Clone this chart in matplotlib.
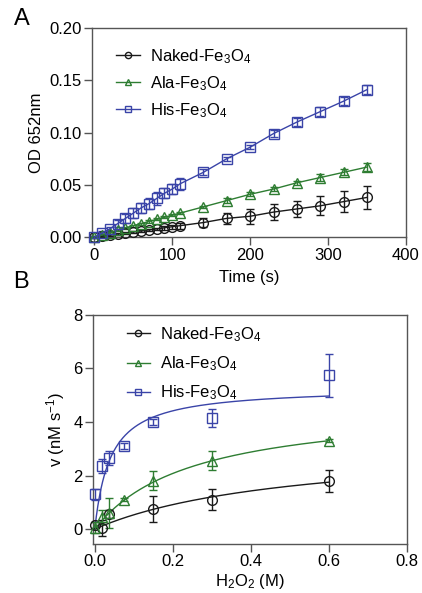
import numpy as np
import matplotlib
matplotlib.use("Agg")
import matplotlib.pyplot as plt

plt.rcParams['font.family'] = ['Liberation Sans', 'DejaVu Sans']
plt.rcParams['font.size'] = 11
plt.rcParams['mathtext.fontset'] = 'custom'
plt.rcParams['mathtext.rm'] = 'Liberation Sans'
plt.rcParams['mathtext.it'] = 'Liberation Sans'

# ---- Panel A: kinetics (OD 652nm vs time) ----
time_s = [0, 10, 20, 30, 40, 50, 60, 70, 80, 90, 100, 110,
          140, 170, 200, 230, 260, 290, 320, 350]
naked_od = [0.000, 0.001, 0.002, 0.003, 0.004, 0.005, 0.006, 0.007, 0.008, 0.009,
            0.010, 0.011, 0.014, 0.018, 0.020, 0.024, 0.027, 0.030, 0.034, 0.038]
naked_od_err = [0.001, 0.001, 0.001, 0.001, 0.001, 0.001, 0.001, 0.001, 0.001, 0.002,
                0.002, 0.003, 0.004, 0.005, 0.007, 0.008, 0.008, 0.009, 0.010, 0.011]
ala_od = [0.000, 0.002, 0.004, 0.007, 0.009, 0.011, 0.013, 0.015, 0.017, 0.019,
          0.021, 0.023, 0.029, 0.035, 0.041, 0.046, 0.052, 0.057, 0.062, 0.067]
ala_od_err = [0.001, 0.001, 0.001, 0.001, 0.001, 0.001, 0.001, 0.001, 0.001, 0.001,
              0.001, 0.001, 0.001, 0.002, 0.002, 0.002, 0.002, 0.003, 0.003, 0.004]
his_od = [0.000, 0.004, 0.008, 0.013, 0.018, 0.023, 0.028, 0.032, 0.037, 0.042,
          0.046, 0.051, 0.062, 0.075, 0.086, 0.099, 0.110, 0.120, 0.130, 0.141]
his_od_err = [0.001, 0.002, 0.002, 0.003, 0.004, 0.005, 0.005, 0.005, 0.006, 0.005,
              0.005, 0.006, 0.003, 0.002, 0.002, 0.003, 0.004, 0.004, 0.004, 0.004]

# ---- Panel B: Michaelis-Menten (v vs H2O2) ----
h2o2_m = [0.0, 0.01875, 0.0375, 0.075, 0.15, 0.3, 0.6]
naked_h2o2 = [0.0, 0.01875, 0.0375, 0.15, 0.3, 0.6]
naked_v = [0.15, 0.05, 0.55, 0.75, 1.1, 1.8]
naked_v_err = [0.1, 0.3, 0.15, 0.5, 0.4, 0.4]
ala_v = [0.05, 0.45, 0.6, 1.1, 1.8, 2.55, 3.3]
ala_v_err = [0.2, 0.25, 0.55, 0.05, 0.35, 0.35, 0.05]
his_v = [1.3, 2.35, 2.65, 3.1, 4.0, 4.15, 5.75]
his_v_err = [0.2, 0.25, 0.25, 0.1, 0.1, 0.35, 0.8]

# fitted Michaelis-Menten parameters (Vmax in nM/s, Km in M)
naked_fit = (3.23, 0.507)
ala_fit = (4.675, 0.25)
his_fit = (5.3, 0.04)

labels = [r'Naked-Fe$_3$O$_4$', r'Ala-Fe$_3$O$_4$', r'His-Fe$_3$O$_4$']
colors = ['#1a1a1a', '#2e7d32', '#3a44a8']
markers = ['o', '^', 's']

fig = plt.figure(figsize=(4.22, 5.93), dpi=100)
axA = fig.add_axes([0.218, 0.600, 0.744, 0.353])
axB = fig.add_axes([0.220, 0.083, 0.744, 0.386])


def style_axes(ax):
    for s in ax.spines.values():
        s.set_color('#555555')
        s.set_linewidth(1.0)
    ax.tick_params(direction='out', length=6, width=1.0, color='#555555',
                   labelsize=12, pad=1.5)


def legend_handles():
    return [plt.Line2D([], [], color=c, marker=m, markerfacecolor='none',
                       markersize=4.5, linewidth=1.0)
            for c, m in zip(colors, markers)]


# Panel A
seriesA = [(naked_od, naked_od_err), (ala_od, ala_od_err), (his_od, his_od_err)]
for (y, e), c, m in zip(seriesA, colors, markers):
    axA.errorbar(time_s, y, yerr=e, color=c, marker=m, markersize=7,
                 markerfacecolor='none', markeredgewidth=1.0, linewidth=1.0,
                 capsize=3, elinewidth=1.0, clip_on=False, zorder=3)
axA.set_xlim(-3, 400)
axA.set_ylim(0, 0.20)
axA.set_xticks([0, 100, 200, 300, 400])
axA.set_yticks([0.00, 0.05, 0.10, 0.15, 0.20])
axA.set_yticklabels(['0.00', '0.05', '0.10', '0.15', '0.20'])
axA.set_xlabel('Time (s)', fontsize=12, labelpad=5)
axA.set_ylabel('OD 652nm', fontsize=12, labelpad=4)
style_axes(axA)
axA.legend(legend_handles(), labels, loc='upper left',
           bbox_to_anchor=(0.03, 0.98), frameon=False, fontsize=12,
           handlelength=1.4, labelspacing=0.5, handletextpad=0.6)

# Panel B
xs = np.linspace(0, 0.6, 300)
seriesB = [(naked_h2o2, naked_v, naked_v_err, naked_fit),
           (h2o2_m, ala_v, ala_v_err, ala_fit),
           (h2o2_m, his_v, his_v_err, his_fit)]
for (x, y, e, (vmax, km)), c, m in zip(seriesB, colors, markers):
    axB.errorbar(x, y, yerr=e, color=c, marker=m, markersize=7,
                 markerfacecolor='none', markeredgewidth=1.0, linestyle='none',
                 capsize=3, elinewidth=1.0, clip_on=False, zorder=3)
    axB.plot(xs, vmax * xs / (km + xs), color=c, linewidth=1.0, zorder=2)
axB.set_xlim(-0.005, 0.8)
axB.set_ylim(-0.55, 8)
axB.set_xticks([0.0, 0.2, 0.4, 0.6, 0.8])
axB.set_xticklabels(['0.0', '0.2', '0.4', '0.6', '0.8'])
axB.set_yticks([0, 2, 4, 6, 8])
axB.set_xlabel(r'H$_2$O$_2$ (M)', fontsize=12, labelpad=2)
axB.set_ylabel(r'v (nM s$^{-1}$)', fontsize=12, labelpad=4)
style_axes(axB)
axB.legend(legend_handles(), labels, loc='upper left',
           bbox_to_anchor=(0.06, 1.02), frameon=False, fontsize=12,
           handlelength=1.4, labelspacing=0.62, handletextpad=0.6)

fig.text(0.032, 0.968, 'A', fontsize=17, va='center')
fig.text(0.032, 0.525, 'B', fontsize=17, va='center')

fig.savefig('out.png', dpi=100)
